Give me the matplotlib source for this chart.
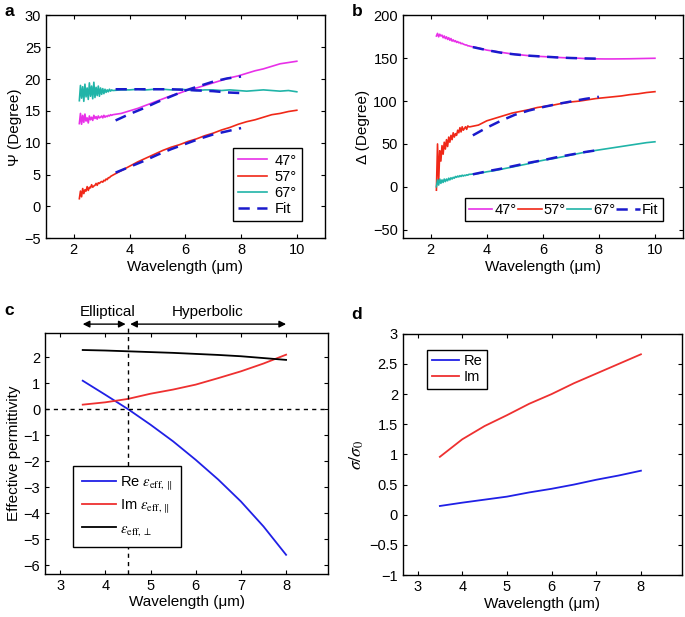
import numpy as np
import matplotlib
matplotlib.use("Agg")
import matplotlib.pyplot as plt

plt.rcParams['font.family'] = ['Liberation Sans', 'DejaVu Sans']
plt.rcParams['mathtext.fontset'] = 'stix'
plt.rcParams['font.size'] = 10.5
plt.rcParams['axes.unicode_minus'] = True

# measured wavelength grid (dense where the data is noisy)
wl_meas = np.round(np.concatenate([np.arange(2.2, 3.38, 0.04), np.arange(3.4, 10.01, 0.3)]), 2)
wl_fit = [3.5, 4.0, 4.5, 5.0, 5.5, 6.0, 6.5, 7.0, 7.5, 8.0]

# panel a: Psi (degree)
psi_47 = [13.0, 14.6, 12.9, 14.3, 13.2, 14.5, 13.4, 13.9, 13.1, 14.2, 13.6, 14.0, 13.5, 14.3, 13.8,
          14.1, 13.7, 14.2, 13.9, 14.0, 14.2, 13.9, 14.3, 14.0, 14.2, 14.1, 14.3, 14.2, 14.4, 14.3,
          14.4, 14.6, 15.0, 15.4, 15.9, 16.4, 16.9, 17.4, 17.8, 18.3, 18.6, 19.0, 19.4, 19.8, 20.2,
          20.5, 20.9, 21.3, 21.6, 22.0, 22.4, 22.6, 22.8]
psi_57 = [1.2, 2.4, 1.5, 2.8, 2.0, 2.6, 2.4, 3.1, 2.5, 3.0, 2.9, 3.4, 3.0, 3.2, 3.3,
          3.6, 3.3, 3.7, 3.6, 3.8, 3.9, 3.8, 4.1, 4.0, 4.3, 4.2, 4.5, 4.5, 4.7, 4.8,
          4.9, 5.6, 6.3, 7.0, 7.6, 8.2, 8.8, 9.3, 9.7, 10.2, 10.6, 11.1, 11.5, 12.0, 12.4,
          12.9, 13.3, 13.6, 14.0, 14.4, 14.6, 14.9, 15.1]
psi_67 = [16.6, 19.0, 17.0, 18.8, 16.5, 19.2, 17.2, 18.6, 16.8, 19.4, 17.3, 18.9, 16.9, 19.5, 17.1,
          18.7, 17.4, 18.9, 17.3, 18.6, 17.6, 18.5, 17.7, 18.4, 17.9, 18.3, 18.0, 18.4, 18.1, 18.3,
          18.2, 18.3, 18.3, 18.4, 18.3, 18.4, 18.4, 18.3, 18.4, 18.3, 18.2, 18.3, 18.3, 18.2, 18.3,
          18.2, 18.1, 18.2, 18.3, 18.2, 18.1, 18.2, 18.0]
psi_fit_47 = [13.5, 14.5, 15.4, 16.4, 17.3, 18.2, 18.9, 19.6, 20.1, 20.4]
psi_fit_57 = [5.3, 6.2, 7.1, 8.1, 9.0, 9.8, 10.6, 11.3, 11.8, 12.3]
psi_fit_67 = [18.4, 18.4, 18.4, 18.4, 18.4, 18.3, 18.2, 18.1, 17.9, 17.8]

# panel b: Delta (degree)
delta_47 = [176, 179, 175, 178, 176, 177, 174, 176, 173, 175, 172, 174, 171, 173, 170,
            171.5, 169.5, 170.5, 168.5, 169.5, 168, 168.5, 167, 167.5, 166.5, 166, 165.5, 165.5, 164.5, 164.5,
            164, 162, 159.5, 158, 156.5, 155, 154, 153, 152.3, 151.8, 151.2, 150.7, 150.3, 150, 149.5,
            149.3, 149.2, 149.2, 149.3, 149.4, 149.6, 149.8, 150]
delta_57 = [-4, 50, 5, 42, 30, 48, 38, 52, 44, 55, 47, 58, 52, 60, 55,
            63, 58, 62, 60, 66, 63, 69, 64, 70, 66, 68, 70, 67, 71, 70,
            70, 72, 77, 80, 83, 86, 88, 90, 92.5, 94, 95.5, 97.5, 99, 100, 101.5,
            103, 104, 105, 106, 107.5, 108.5, 110, 111]
delta_67 = [0, 8, 2, 9, 4, 8, 5, 9, 6, 9, 7, 10, 8, 10.5, 9,
            11, 10, 12, 11, 12.5, 11.5, 13, 12, 13.5, 12.5, 13.5, 13, 14, 13.5, 14.5,
            14.5, 15.5, 17.5, 19, 21, 23, 25, 27, 29.5, 31.5, 33, 35, 37, 39, 41,
            42.5, 44, 45.5, 47, 48.5, 50, 51.5, 52.5]
delta_fit_47 = [163, 159.5, 156.5, 154.5, 153, 152, 151, 150.3, 149.8, 149.5]
delta_fit_57 = [60, 69, 77, 84, 89, 93, 96.5, 99.5, 102.5, 105]
delta_fit_67 = [14.5, 18, 21, 24.5, 28, 31, 34.5, 37.5, 40.5, 43]

# panels c, d: model
wl_model = [3.5, 4.0, 4.5, 5.0, 5.5, 6.0, 6.5, 7.0, 7.5, 8.0]
eps_re_par = [1.1, 0.56, 0.01, -0.59, -1.23, -1.94, -2.7, -3.54, -4.5, -5.59]
eps_im_par = [0.18, 0.27, 0.4, 0.6, 0.76, 0.95, 1.2, 1.46, 1.76, 2.1]
eps_perp = [2.28, 2.26, 2.23, 2.20, 2.17, 2.13, 2.09, 2.04, 1.97, 1.9]
sigma_re = [0.145, 0.2, 0.25, 0.3, 0.37, 0.43, 0.5, 0.58, 0.65, 0.73]
sigma_im = [0.96, 1.25, 1.47, 1.65, 1.84, 2.0, 2.18, 2.34, 2.5, 2.66]

c_mag = '#e830e8'
c_red = '#f02818'
c_teal = '#20b4a8'
c_fit = '#1a1acc'
fit_style = dict(color=c_fit, lw=1.8, dashes=(4.5, 3))

fig = plt.figure(figsize=(6.85, 6.17), dpi=100)
ax_a = fig.add_axes([0.067, 0.614, 0.407, 0.361])
ax_b = fig.add_axes([0.588, 0.614, 0.409, 0.361])
ax_c = fig.add_axes([0.066, 0.070, 0.413, 0.391])
ax_d = fig.add_axes([0.588, 0.068, 0.407, 0.391])

for ax in [ax_a, ax_b, ax_c, ax_d]:
    ax.tick_params(direction='in', top=True, right=True, length=3, width=0.8, labelsize=10.5)
    for s in ax.spines.values():
        s.set_linewidth(1.0)

def box_legend(ax, **kw):
    leg = ax.legend(borderaxespad=0, fancybox=False, edgecolor='black', framealpha=1,
                    fontsize=10.5, **kw)
    leg.get_frame().set_linewidth(1.0)
    return leg

# a
ax_a.plot(wl_meas, psi_47, color=c_mag, lw=1.2, label='47°')
ax_a.plot(wl_meas, psi_57, color=c_red, lw=1.2, label='57°')
ax_a.plot(wl_meas, psi_67, color=c_teal, lw=1.2, label='67°')
ax_a.plot(wl_fit, psi_fit_47, label='Fit', **fit_style)
ax_a.plot(wl_fit, psi_fit_57, **fit_style)
ax_a.plot(wl_fit, psi_fit_67, **fit_style)
ax_a.set_xlim(1, 11)
ax_a.set_ylim(-5, 30)
ax_a.set_xticks([2, 4, 6, 8, 10])
ax_a.set_yticks(range(-5, 31, 5))
ax_a.set_xlabel('Wavelength (μm)', labelpad=2, fontsize=11)
ax_a.set_ylabel('Ψ (Degree)', labelpad=2, fontsize=11)
box_legend(ax_a, loc='lower right', bbox_to_anchor=(0.917, 0.076), handlelength=2.0,
           handletextpad=0.5, labelspacing=0.15, borderpad=0.35)

# b
ax_b.plot(wl_meas, delta_47, color=c_mag, lw=1.2, label='47°')
ax_b.plot(wl_meas, delta_57, color=c_red, lw=1.2, label='57°')
ax_b.plot(wl_meas, delta_67, color=c_teal, lw=1.2, label='67°')
ax_b.plot(wl_fit, delta_fit_47, label='Fit', **fit_style)
ax_b.plot(wl_fit, delta_fit_57, **fit_style)
ax_b.plot(wl_fit, delta_fit_67, **fit_style)
ax_b.set_xlim(1, 11)
ax_b.set_ylim(-60, 200)
ax_b.set_xticks([2, 4, 6, 8, 10])
ax_b.set_yticks(range(-50, 201, 50))
ax_b.set_xlabel('Wavelength (μm)', labelpad=2, fontsize=11)
ax_b.set_ylabel('Δ (Degree)', labelpad=2, fontsize=11)
box_legend(ax_b, loc='lower right', bbox_to_anchor=(0.928, 0.077), ncol=4, handlelength=1.6,
           handletextpad=0.15, columnspacing=0.1, borderpad=0.3)

# c
ax_c.plot(wl_model, eps_re_par, color='#2020e6', lw=1.3, label=r'Re $\varepsilon_{\mathrm{eff},\parallel}$')
ax_c.plot(wl_model, eps_im_par, color='#ee3030', lw=1.3, label=r'Im $\varepsilon_{\mathrm{eff},\parallel}$')
ax_c.plot(wl_model, eps_perp, color='black', lw=1.3, label=r'$\varepsilon_{\mathrm{eff},\perp}$')
ax_c.axhline(0, color='black', lw=1.0, ls=(0, (3, 3)))
ax_c.plot([4.5, 4.5], [-6.32, 3.25], color='black', lw=1.0, ls=(0, (3, 3)), clip_on=False)
ax_c.set_xlim(2.67, 8.93)
ax_c.set_ylim(-6.32, 2.95)
ax_c.set_xticks([3, 4, 5, 6, 7, 8])
ax_c.set_yticks(range(-6, 3))
ax_c.set_xlabel('Wavelength (μm)', labelpad=2, fontsize=11)
ax_c.set_ylabel('Effective permittivity', labelpad=2, fontsize=11)
box_legend(ax_c, loc='lower left', bbox_to_anchor=(0.099, 0.113), handlelength=2.3,
           handletextpad=0.3, labelspacing=0.4, borderpad=0.6)
trans = ax_c.get_xaxis_transform()
arrow = dict(arrowstyle='<|-|>', color='black', lw=1.0, shrinkA=0, shrinkB=0,
             mutation_scale=10)
ax_c.annotate('', xy=(3.5, 1.035), xytext=(4.45, 1.035), xycoords=trans, textcoords=trans,
              arrowprops=arrow, annotation_clip=False)
ax_c.annotate('', xy=(4.55, 1.035), xytext=(8.0, 1.035), xycoords=trans, textcoords=trans,
              arrowprops=arrow, annotation_clip=False)
ax_c.text(4.06, 1.085, 'Elliptical', transform=trans, ha='center', va='center', fontsize=11)
ax_c.text(6.26, 1.085, 'Hyperbolic', transform=trans, ha='center', va='center', fontsize=11)

# d
ax_d.plot(wl_model, sigma_re, color='#2020e6', lw=1.3, label='Re')
ax_d.plot(wl_model, sigma_im, color='#ee3030', lw=1.3, label='Im')
ax_d.set_xlim(2.67, 8.91)
ax_d.set_ylim(-1, 3)
ax_d.set_xticks([3, 4, 5, 6, 7, 8])
ax_d.set_yticks([-1, -0.5, 0, 0.5, 1, 1.5, 2, 2.5, 3])
ax_d.set_yticklabels(['−1', '−0.5', '0', '0.5', '1', '1.5', '2', '2.5', '3'])
ax_d.set_xlabel('Wavelength (μm)', labelpad=2, fontsize=11)
ax_d.set_ylabel(r'$\sigma/\sigma_0$', labelpad=2, fontsize=13)
box_legend(ax_d, loc='upper left', bbox_to_anchor=(0.088, 0.934), handlelength=1.9,
           handletextpad=0.3, labelspacing=0.15, borderpad=0.3)

# panel letters
for lbl, x, y in [('a', 0.006, 0.981), ('b', 0.513, 0.981), ('c', 0.006, 0.497), ('d', 0.513, 0.490)]:
    fig.text(x, y, lbl, fontsize=12.5, fontweight='bold', ha='left', va='center')

fig.savefig('out.png', dpi=100)
